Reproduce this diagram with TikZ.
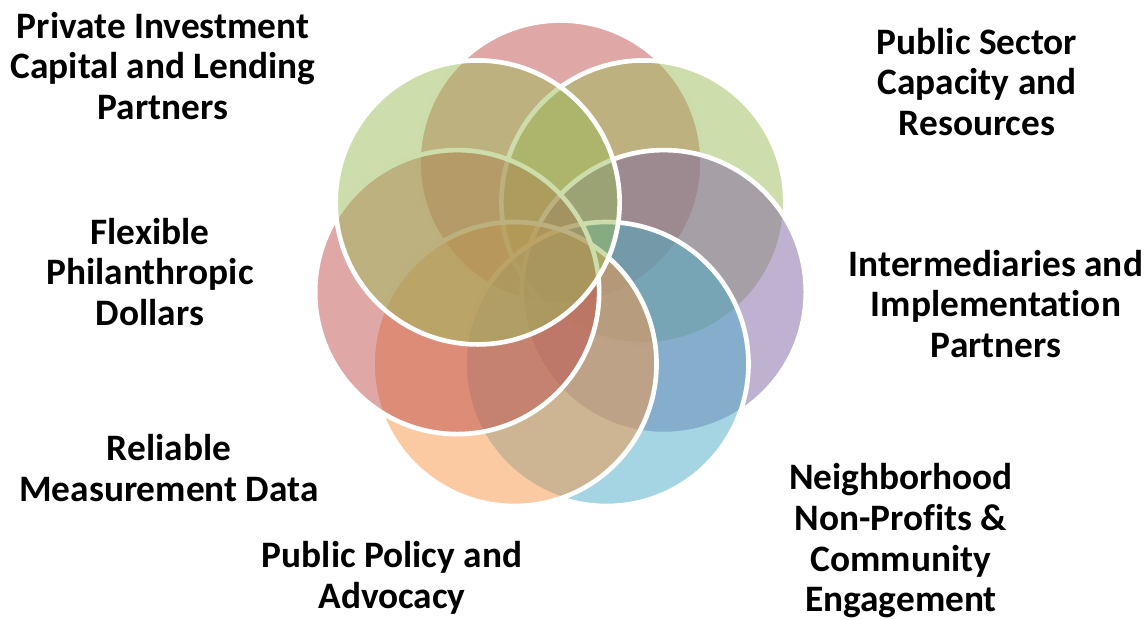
\documentclass[tikz,border=0pt]{standalone}
\usepackage{fontspec}
\setmainfont{Carlito}[Ligatures=NoCommon]
\usepackage{tikz}

\definecolor{ofRed}{HTML}{C0504D}
\definecolor{ofGreen}{HTML}{9BBB59}
\definecolor{ofPurple}{HTML}{8064A2}
\definecolor{ofAqua}{HTML}{4BACC6}
\definecolor{ofOrange}{HTML}{F79646}

\tikzset{
  petal/.style={fill=#1, fill opacity=0.5, draw=white, line width=3.5pt},
  lbl/.style={align=center, font=\fontsize{28}{30.5}\selectfont\bfseries}
}

\begin{document}
\begin{tikzpicture}[x=0.75pt, y=-0.75pt]
  \useasboundingbox (0,0) rectangle (1145,619);
  \coordinate (hub) at (560.5,268.5);
  % seven circles, clockwise from the top one
  \foreach \col [count=\k from 0] in {ofRed,ofGreen,ofPurple,ofAqua,ofOrange,ofRed,ofGreen}
    \path[petal=\col] (hub) ++(-90+\k*360/7:106) circle (142);
  \draw (163,66) node[lbl] (private) {Private Investment\\Capital and Lending\\Partners};
  \draw (977,82) node[lbl] (public) {Public Sector\\Capacity and\\Resources};
  \draw (150,272) node[lbl] (flexible) {Flexible\\Philanthropic\\Dollars};
  % kern keeps t and i apart
  \draw (996,304) node[lbl] (interm) {Intermediaries and\\Implementat\kern0pt ion\\Partners};
  \draw (169,468) node[lbl] (reliable) {Reliable\\Measurement Data};
  \draw (392,578) node[lbl] (policy) {Public Policy and\\Advocacy};
  \draw (901,541) node[lbl] (neighbor) {Neighborhood\\Non-Profits \&\\Community\\Engagement};
\end{tikzpicture}
\end{document}
